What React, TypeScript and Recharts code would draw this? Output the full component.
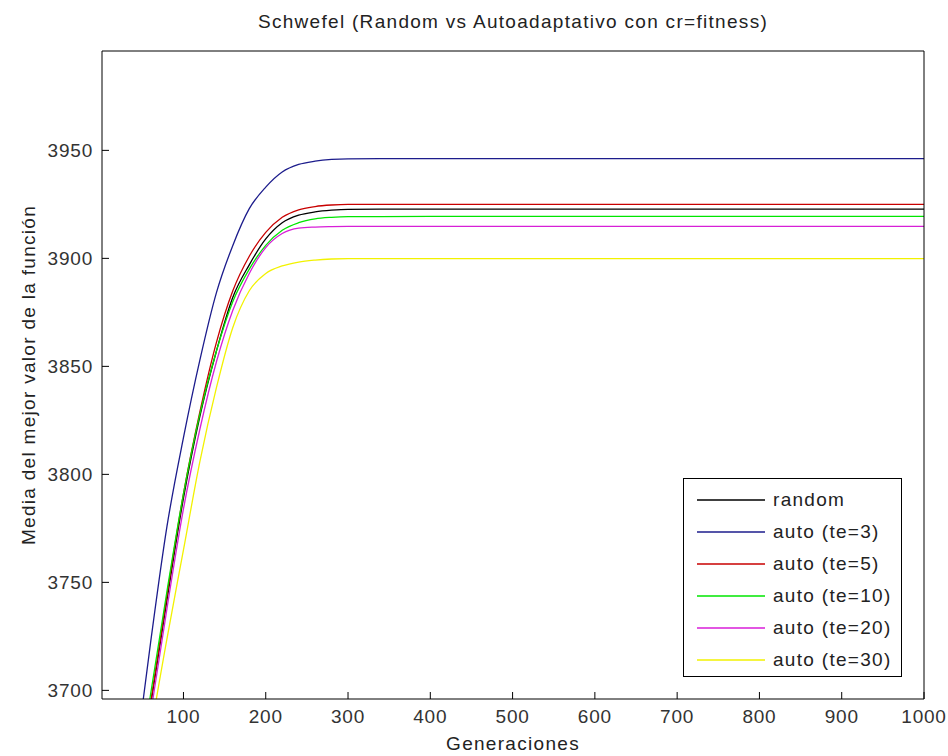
import React from 'react';
import { LineChart, Line, XAxis, YAxis } from 'recharts';

const generations = [40, 60, 80, 100, 120, 140, 160, 180, 200, 220, 240, 260, 280, 300, 400, 500, 600, 700, 800, 900, 1000];

const randomVals = [3641, 3693, 3742, 3789, 3827, 3857, 3882, 3897, 3909, 3916.5, 3920, 3921.5, 3922.3, 3922.7, 3922.8, 3922.8, 3922.8, 3922.8, 3922.8, 3922.8, 3922.8];
const te3Vals = [3663, 3722, 3776, 3817, 3853, 3884, 3906, 3923, 3933, 3940, 3943.5, 3945, 3945.8, 3946.1, 3946.2, 3946.2, 3946.2, 3946.2, 3946.2, 3946.2, 3946.2];
const te5Vals = [3642, 3694, 3744, 3791, 3829, 3861, 3885, 3901, 3912, 3919, 3922.5, 3924, 3924.7, 3925, 3925, 3925, 3925, 3925, 3925, 3925, 3925];
const te10Vals = [3648, 3698, 3746, 3791, 3828, 3857, 3880, 3895, 3906, 3913, 3916.5, 3918.3, 3919, 3919.3, 3919.4, 3919.4, 3919.4, 3919.4, 3919.4, 3919.4, 3919.4];
const te20Vals = [3638, 3689, 3738, 3784, 3821, 3852, 3876, 3893, 3905, 3911.5, 3914, 3914.5, 3914.7, 3914.8, 3914.8, 3914.8, 3914.8, 3914.8, 3914.8, 3914.8, 3914.8];
const te30Vals = [3630, 3680, 3724, 3765, 3806, 3840, 3868, 3885, 3893, 3896.5, 3898.3, 3899.2, 3899.7, 3899.9, 3899.9, 3899.9, 3899.9, 3899.9, 3899.9, 3899.9, 3899.9];

const xTicks = [100, 200, 300, 400, 500, 600, 700, 800, 900, 1000];
const yTicks = [3700, 3750, 3800, 3850, 3900, 3950];

const series = [
  { key: 'random', name: 'random', color: '#000000', values: randomVals },
  { key: 'te3', name: 'auto (te=3)', color: '#1c1c8c', values: te3Vals },
  { key: 'te5', name: 'auto (te=5)', color: '#c80000', values: te5Vals },
  { key: 'te10', name: 'auto (te=10)', color: '#00e600', values: te10Vals },
  { key: 'te20', name: 'auto (te=20)', color: '#d81ed8', values: te20Vals },
  { key: 'te30', name: 'auto (te=30)', color: '#f2f200', values: te30Vals },
];

const data = generations.map((g, i) => {
  const row: Record<string, number> = { gen: g };
  series.forEach((s) => { row[s.key] = s.values[i]; });
  return row;
});

const FONT = '"Liberation Sans", Arial, sans-serif';
const tickStyle = { fill: '#333', fontSize: 19, fontFamily: FONT, letterSpacing: 0.8 };

const MatlabLegend = () => (
  <div
    style={{
      position: 'absolute', left: 683, top: 478, width: 219, height: 199,
      border: '1px solid #000', background: '#fff', boxSizing: 'border-box',
      fontFamily: FONT, fontSize: 19, letterSpacing: 1.3, paddingTop: 5, color: '#222',
    }}
  >
    {series.map((s) => (
      <div key={s.key} style={{ display: 'flex', alignItems: 'center', height: 32 }}>
        <svg width={68} height={4} style={{ marginLeft: 13, display: 'block' }}>
          <line x1={0} x2={68} y1={2} y2={2} stroke={s.color} strokeWidth={1.3} />
        </svg>
        <span style={{ marginLeft: 8 }}>{s.name}</span>
      </div>
    ))}
  </div>
);

export default function App() {
  return (
    <div style={{ position: 'absolute', left: 0, top: 0, width: 948, height: 756, background: '#fff', fontFamily: FONT, color: '#222' }}>
      <LineChart width={948} height={756} data={data} margin={{ top: 50, right: 23, bottom: 27, left: 42 }}>
        <XAxis
          dataKey="gen" type="number" domain={[1, 1000]} ticks={xTicks}
          height={30} tickSize={-7} tickMargin={18} stroke="#000" tick={tickStyle}
          allowDataOverflow
        />
        <XAxis
          xAxisId="top" orientation="top" dataKey="gen" type="number" domain={[1, 1000]} ticks={xTicks}
          height={1} tickSize={-7} tick={false} stroke="#000"
        />
        <YAxis
          domain={[3696, 3996]} ticks={yTicks} width={60} tickSize={-7} tickMargin={16}
          stroke="#000" tick={tickStyle} allowDataOverflow
        />
        <YAxis
          yAxisId="right" orientation="right" domain={[3696, 3996]} ticks={yTicks} width={1}
          tickSize={-7} tick={false} stroke="#000"
        />
        {series.map((s) => (
          <Line
            key={s.key} dataKey={s.key} name={s.name} type="monotone" stroke={s.color}
            strokeWidth={1.3} dot={false} isAnimationActive={false}
          />
        ))}
      </LineChart>
      <MatlabLegend />
      <div style={{ position: 'absolute', left: 0, width: 1026, top: 11, textAlign: 'center', fontSize: 19, letterSpacing: 1.3 }}>
        Schwefel (Random vs Autoadaptativo con cr=fitness)
      </div>
      <div style={{ position: 'absolute', left: 0, width: 1026, top: 733, textAlign: 'center', fontSize: 19, letterSpacing: 1.3 }}>
        Generaciones
      </div>
      <div
        style={{
          position: 'absolute', left: 29, top: 375, fontSize: 19, letterSpacing: 1.3, whiteSpace: 'nowrap',
          transform: 'translate(-50%, -50%) rotate(-90deg)',
        }}
      >
        Media del mejor valor de la función
      </div>
    </div>
  );
}
